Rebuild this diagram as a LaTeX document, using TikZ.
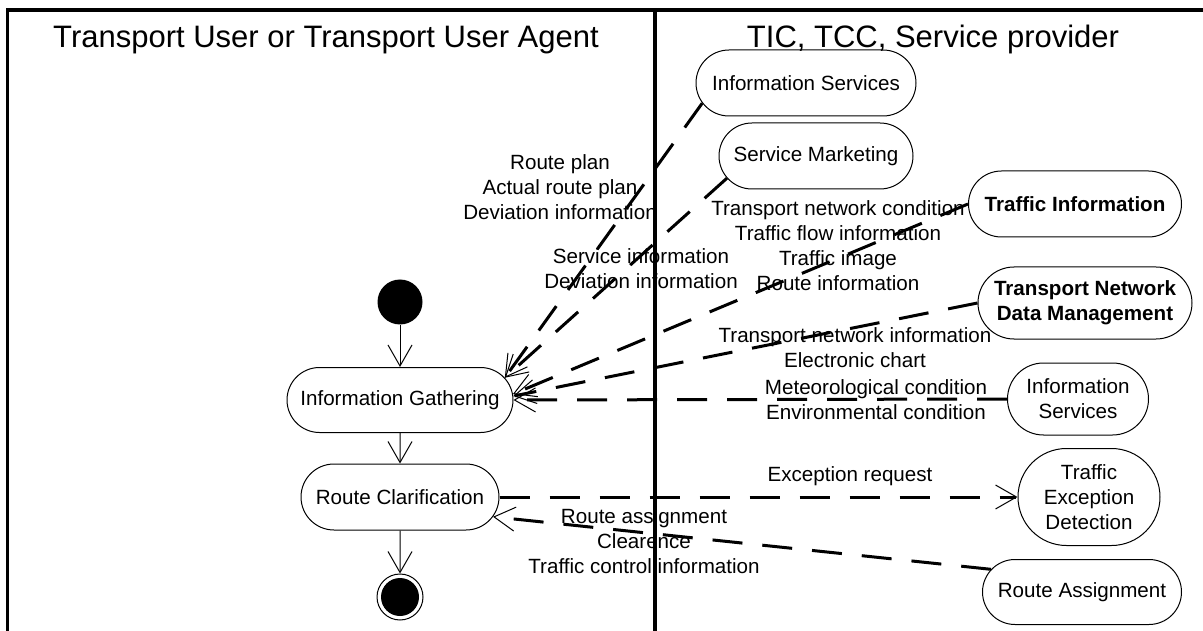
\documentclass[tikz,border=0pt]{standalone}
\usepackage{fontspec}
\setmainfont{Liberation Sans}
\usetikzlibrary{shapes.misc,arrows.meta}

\newcommand\lblfont{\fontsize{20.6}{25}\selectfont}
\newcommand\hdrfont{\fontsize{31}{36}\selectfont}

\begin{document}
\begin{tikzpicture}[x=1pt,y=-1pt,
  >={Straight Barb[length=21pt,width=24pt,line width=1pt]},
  state/.style={rounded rectangle, draw, line width=1pt, inner sep=0pt,
                align=center, font=\lblfont},
  boldstate/.style={state, font=\lblfont\bfseries},
  lbl/.style={inner sep=0pt, align=center, font=\lblfont},
  flow/.style={->, line width=3pt, dash pattern=on 30pt off 20pt},
  ctrl/.style={->, line width=1pt},
  lane/.style={line width=3.5pt}]

\useasboundingbox (0,0) rectangle (1203,631);

% swimlane frame
\draw[lane] (7.5,631) -- (7.5,10) -- (1203,10);
\draw[lane] (655,10) -- (655,631);
\node[font=\hdrfont, anchor=base, inner sep=0pt] (laneL) at (326,48) {Transport User or Transport User Agent};
\node[font=\hdrfont, anchor=base, inner sep=0pt] (laneR) at (933,48) {TIC, TCC, Service provider};

% provider activities
\node[state, minimum width=220pt, minimum height=66pt] (ist) at (806,83) {Information Services};
\node[state, minimum width=194pt, minimum height=66pt] (sm) at (816,156) {Service Marketing};
\node[boldstate, minimum width=213pt, minimum height=66pt] (ti) at (1075,204) {Traffic Information};
\node[boldstate, minimum width=214pt, minimum height=72pt] (tndm) at (1085,303) {Transport Network\\Data Management};
\node[state, minimum width=141pt, minimum height=72pt] (isr) at (1078,399) {Information\\Services};
\node[state, minimum width=142pt, minimum height=97pt] (ted) at (1089,497) {Traffic\\Exception\\Detection};
\node[state, minimum width=199pt, minimum height=65pt] (ra) at (1082,592) {Route Assignment};

% user activities
\node[circle, fill, minimum size=45pt, inner sep=0pt] (start) at (400,302) {};
\node[state, minimum width=226pt, minimum height=65pt] (ig) at (400,400) {Information Gathering};
\node[state, minimum width=198pt, minimum height=66pt] (rc) at (400,497) {Route Clarification};
\node[circle, draw, line width=1pt, minimum size=46pt, inner sep=0pt] (stop) at (400,597) {};
\node[circle, fill, minimum size=38pt, inner sep=0pt] (stopdot) at (stop.center) {};

% control flow
\draw[ctrl] (start) -- (ig);
\draw[ctrl] (ig) -- (rc);
\draw[ctrl] (rc) -- (stop);

% object flows
\draw[flow] (ist.191) -- (ig.12);
\draw[flow] (sm.194) -- (ig.12);
\draw[flow] (ti.west) -- (ig.3);
\draw[flow] (tndm.west) -- (ig.2);
\draw[flow] (isr.west) -- (ig.east);
\draw[flow] (rc.east) -- (ted.west);
\draw[flow] (ra.166) -- (rc.-12);

% flow labels
\node[lbl] (la) at (560,187) {Route plan\\Actual route plan\\Deviation information};
\node[lbl] (lb) at (838,246) {Transport network condition\\Traffic flow information\\Traffic image\\Route information};
\node[lbl] (lc) at (641,269) {Service information\\Deviation information};
\node[lbl] (ld) at (855,348) {Transport network information\\Electronic chart};
\node[lbl] (le) at (876,400) {Meteorological condition\\Environmental condition};
\node[lbl] (lf) at (850,476) {Exception request};
\node[lbl] (lg) at (644,541) {Route assignment\\Clearence\\Traffic control information};
\end{tikzpicture}
\end{document}
